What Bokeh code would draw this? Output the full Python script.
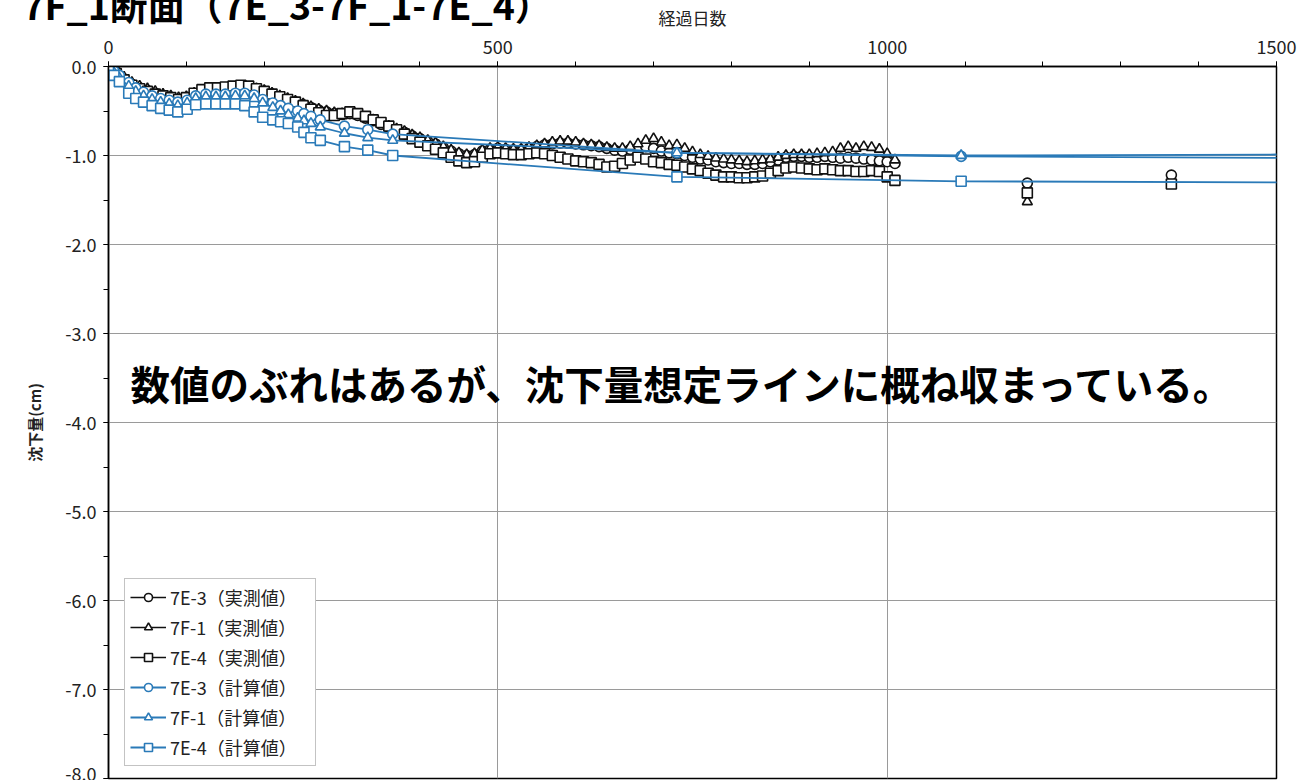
from bokeh.plotting import figure
from bokeh.models import (Range1d, SingleIntervalTicker, PrintfTickFormatter, Label,
                          Legend, LegendItem)
from bokeh.embed import file_html
from bokeh.resources import INLINE

# ---- measured settlement (cm), sampled every 10 days ----
obs_days = list(range(0, 1011, 10))

obs_7e3 = [0.00, -0.06, -0.14, -0.20, -0.24, -0.27, -0.30, -0.33, -0.35, -0.37,
           -0.36, -0.32, -0.29, -0.28, -0.28, -0.27, -0.26, -0.25, -0.25, -0.26,
           -0.28, -0.31, -0.34, -0.37, -0.40, -0.43, -0.46, -0.49, -0.51, -0.53,
           -0.54, -0.53, -0.55, -0.58, -0.61, -0.65, -0.68, -0.71, -0.74, -0.78,
           -0.81, -0.84, -0.87, -0.91, -0.95, -0.98, -1.00, -0.99, -0.95, -0.93,
           -0.92, -0.93, -0.94, -0.94, -0.92, -0.90, -0.88, -0.87, -0.86, -0.86,
           -0.87, -0.88, -0.89, -0.90, -0.92, -0.94, -0.95, -0.93, -0.91, -0.90,
           -0.92, -0.95, -0.97, -0.98, -1.00, -1.02, -1.04, -1.05, -1.07, -1.08,
           -1.09, -1.09, -1.10, -1.10, -1.09, -1.07, -1.05, -1.02, -1.01, -1.01,
           -1.02, -1.02, -1.01, -1.02, -1.03, -1.02, -1.03, -1.04, -1.05, -1.06,
           -1.07, -1.09]

obs_7f1 = [0.00, -0.05, -0.12, -0.18, -0.22, -0.25, -0.28, -0.31, -0.33, -0.35,
           -0.34, -0.30, -0.28, -0.27, -0.27, -0.26, -0.25, -0.24, -0.24, -0.25,
           -0.27, -0.30, -0.33, -0.36, -0.39, -0.42, -0.45, -0.48, -0.50, -0.52,
           -0.53, -0.52, -0.54, -0.57, -0.60, -0.64, -0.67, -0.70, -0.73, -0.77,
           -0.80, -0.83, -0.86, -0.90, -0.94, -0.97, -0.99, -0.98, -0.94, -0.92,
           -0.91, -0.92, -0.93, -0.93, -0.91, -0.89, -0.87, -0.85, -0.84, -0.84,
           -0.85, -0.87, -0.88, -0.89, -0.91, -0.92, -0.92, -0.90, -0.87, -0.83,
           -0.81, -0.85, -0.89, -0.88, -0.92, -0.96, -0.99, -1.01, -1.03, -1.04,
           -1.05, -1.06, -1.07, -1.06, -1.05, -1.04, -1.02, -1.00, -0.99, -0.99,
           -0.99, -0.98, -0.97, -0.96, -0.92, -0.90, -0.92, -0.90, -0.91, -0.93,
           -0.98, -1.05]

obs_7e4 = [0.00, -0.08, -0.15, -0.21, -0.25, -0.28, -0.31, -0.33, -0.35, -0.37,
           -0.35, -0.30, -0.26, -0.24, -0.24, -0.23, -0.22, -0.21, -0.22, -0.25,
           -0.28, -0.31, -0.34, -0.37, -0.40, -0.44, -0.48, -0.52, -0.55, -0.55,
           -0.53, -0.51, -0.53, -0.56, -0.60, -0.63, -0.67, -0.71, -0.76, -0.81,
           -0.85, -0.89, -0.93, -0.97, -1.02, -1.06, -1.08, -1.07, -1.02, -0.98,
           -0.97, -0.98, -0.99, -0.99, -0.98, -0.97, -0.98, -1.00, -1.02, -1.04,
           -1.06, -1.07, -1.08, -1.10, -1.13, -1.12, -1.09, -1.05, -1.02, -1.04,
           -1.07, -1.08, -1.10, -1.11, -1.13, -1.15, -1.17, -1.20, -1.22, -1.24,
           -1.24, -1.25, -1.25, -1.24, -1.23, -1.20, -1.17, -1.14, -1.13, -1.14,
           -1.15, -1.16, -1.15, -1.16, -1.17, -1.17, -1.18, -1.18, -1.17, -1.18,
           -1.24, -1.28]

# later spot surveys
late_days_7e3 = [1180, 1365]
late_7e3 = [-1.31, -1.22]
late_days_7f1 = [1180]
late_7f1 = [-1.52]
late_days_7e4 = [1180, 1365]
late_7e4 = [-1.42, -1.32]

# ---- calculated settlement (cm) ----
calc_days = [0, 7, 14, 26, 35, 45, 56, 67, 78, 89, 101, 112, 125, 138, 150, 163,
             175, 187, 198, 211, 221, 231, 243, 251, 260, 272, 303, 333, 365, 730,
             1095, 1825]
calc_7e3 = [0.00, -0.05, -0.10, -0.18, -0.24, -0.29, -0.33, -0.36, -0.38, -0.40,
            -0.38, -0.33, -0.31, -0.31, -0.31, -0.30, -0.30, -0.32, -0.37, -0.41,
            -0.44, -0.47, -0.50, -0.53, -0.56, -0.60, -0.67, -0.71, -0.76, -0.97,
            -1.01, -1.04]
calc_7f1 = [0.00, -0.07, -0.13, -0.22, -0.28, -0.33, -0.37, -0.40, -0.42, -0.44,
            -0.41, -0.36, -0.34, -0.34, -0.34, -0.33, -0.33, -0.36, -0.41, -0.46,
            -0.50, -0.54, -0.58, -0.61, -0.64, -0.68, -0.75, -0.80, -0.83, -0.97,
            -1.00, -0.98]
calc_7e4 = [0.00, -0.10, -0.17, -0.30, -0.36, -0.40, -0.44, -0.47, -0.49, -0.51,
            -0.48, -0.43, -0.42, -0.42, -0.42, -0.42, -0.44, -0.51, -0.57, -0.60,
            -0.62, -0.64, -0.68, -0.74, -0.80, -0.83, -0.90, -0.94, -1.00, -1.24,
            -1.29, -1.31]

x_ticks_step = 500
y_ticks_step = 1.0

FONT = "Noto Sans CJK JP"
BLACK = "#111111"
BLUE = "#2a7ab8"

p = figure(width=1315, height=780,
           x_range=Range1d(0, 1500), y_range=Range1d(-8, 0),
           x_axis_location="above",
           title="7F_1断面（7E_3-7F_1-7E_4）",
           output_backend="svg", toolbar_location=None,
           min_border_left=108, min_border_right=39,
           min_border_top=66, min_border_bottom=2,
           background_fill_color="white", border_fill_color="white")

# heading: pulled left of the frame and tucked up against the top edge
p.title.align = "left"
p.title.offset = -86
p.title.vertical_align = "bottom"
p.title.standoff = -58
p.title.text_font = FONT
p.title.text_font_size = "37.5px"
p.title.text_font_style = "bold"
p.title.text_color = "black"

p.outline_line_color = "black"
p.outline_line_width = 1.5

# axes
p.xaxis.ticker = SingleIntervalTicker(interval=x_ticks_step, num_minor_ticks=5)
p.yaxis.ticker = SingleIntervalTicker(interval=y_ticks_step, num_minor_ticks=2)
p.yaxis.formatter = PrintfTickFormatter(format="%.1f")
p.xaxis.axis_label = "経過日数"
p.yaxis.axis_label = "沈下量(cm)"
for ax in (p.xaxis, p.yaxis):
    ax.axis_line_color = "black"
    ax.axis_line_width = 1.5
    ax.major_tick_line_color = "black"
    ax.minor_tick_line_color = "black"
    ax.major_tick_in = 0
    ax.major_tick_out = 5
    ax.minor_tick_in = 0
    ax.minor_tick_out = 5
    ax.major_label_text_font = FONT
    ax.major_label_text_font_size = "18px"
    ax.major_label_text_color = "#222222"
    ax.axis_label_text_font = FONT
    ax.axis_label_text_color = "#222222"
    ax.axis_label_text_font_style = "normal"
p.xaxis.major_label_standoff = 8
p.xaxis.axis_label_text_font_size = "17px"
p.xaxis.axis_label_standoff = 7
p.yaxis.major_label_standoff = 7
p.yaxis.axis_label_text_font_size = "15px"
p.yaxis.axis_label_text_font_style = "bold"
p.yaxis.axis_label_standoff = 17

# grid
p.xgrid.grid_line_color = "#9a9a9a"
p.ygrid.grid_line_color = "#9a9a9a"
p.xgrid.grid_line_width = 1
p.ygrid.grid_line_width = 1

MS = 10


def series(xs, ys, color, marker, lw, mlw):
    ln = p.line(xs, ys, line_color=color, line_width=lw)
    sc = p.scatter(xs, ys, marker=marker, size=MS, line_color=color,
                   line_width=mlw, fill_color="white")
    return ln, sc


items = []
obs = [("7E-3（実測値）", obs_7e3, "circle"),
       ("7F-1（実測値）", obs_7f1, "triangle"),
       ("7E-4（実測値）", obs_7e4, "square")]
for label, ys, mk in obs:
    ln, sc = series(obs_days, ys, BLACK, mk, 1.3, 1.6)
    items.append(LegendItem(label=label, renderers=[ln, sc]))

for xs, ys, mk in [(late_days_7e3, late_7e3, "circle"),
                   (late_days_7f1, late_7f1, "triangle"),
                   (late_days_7e4, late_7e4, "square")]:
    p.scatter(xs, ys, marker=mk, size=MS, line_color=BLACK, line_width=1.6,
              fill_color="white")

calc = [("7E-3（計算値）", calc_7e3, "circle"),
        ("7F-1（計算値）", calc_7f1, "triangle"),
        ("7E-4（計算値）", calc_7e4, "square")]
for label, ys, mk in calc:
    ln, sc = series(calc_days, ys, BLUE, mk, 1.8, 1.6)
    items.append(LegendItem(label=label, renderers=[ln, sc]))

legend = Legend(items=items, location=(16, 12))
legend.label_text_font = FONT
legend.label_text_font_size = "18px"
legend.label_text_color = "#222222"
legend.glyph_width = 36
legend.glyph_height = 20
legend.label_height = 20
legend.label_width = 140
legend.label_standoff = 4
legend.spacing = 4
legend.padding = 5
legend.margin = 0
legend.border_line_color = "#888888"
legend.border_line_width = 1.5
legend.background_fill_color = "white"
legend.background_fill_alpha = 1.0
p.add_layout(legend)

# remark written across the chart
p.add_layout(Label(x=22, y=396, x_units="screen", y_units="screen",
                   text="数値のぶれはあるが、沈下量想定ラインに概ね収まっている。",
                   text_font=FONT, text_font_size="39.5px", text_font_style="bold",
                   text_color="black", text_baseline="middle", text_align="left"))

open("out.html", "w").write(file_html(p, INLINE))
